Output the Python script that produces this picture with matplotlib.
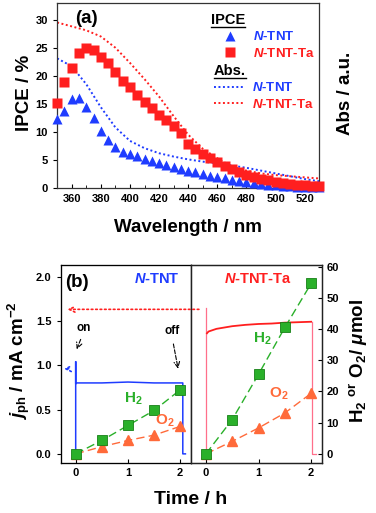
import matplotlib
matplotlib.use("Agg")
import matplotlib.pyplot as plt
from matplotlib.lines import Line2D

plt.rcParams["font.family"] = ["Liberation Sans", "DejaVu Sans"]
plt.rcParams["font.weight"] = "bold"
plt.rcParams["axes.labelweight"] = "bold"
plt.rcParams["mathtext.fontset"] = "custom"
plt.rcParams["mathtext.rm"] = "Liberation Sans:bold"
plt.rcParams["mathtext.it"] = "Liberation Sans:italic:bold"
plt.rcParams["mathtext.bf"] = "Liberation Sans:bold"

# ─── (a) IPCE + 吸收 ───────────────────────────────────────────
wl = list(range(350, 531, 5))
ipce_ntnt = [12.3, 13.7, 15.9, 16.0, 14.5, 12.4, 10.1, 8.5, 7.3, 6.5, 6.0, 5.7, 5.2,
             4.8, 4.5, 4.1, 3.8, 3.4, 3.1, 2.8, 2.5, 2.2, 1.9, 1.7, 1.5, 1.3, 1.1,
             0.9, 0.8, 0.6, 0.5, 0.4, 0.3, 0.25, 0.2, 0.15, 0.1]
ipce_ta = [15.2, 18.9, 21.4, 24.0, 25.0, 24.6, 23.3, 22.2, 20.6, 19.0, 18.0, 16.6,
           15.4, 14.2, 13.0, 12.1, 11.0, 9.8, 7.8, 6.9, 6.1, 5.3, 4.6, 4.0, 3.3,
           2.8, 2.4, 1.9, 1.6, 1.35, 1.1, 0.95, 0.8, 0.6, 0.5, 0.4, 0.35]

wl_abs = list(range(350, 531, 10))
abs_ntnt = [23.1, 21.7, 18.5, 14.4, 10.8, 8.4, 7.1, 6.2, 5.6, 5.1, 4.7, 4.4, 4.0,
            3.6, 3.1, 2.6, 2.1, 1.6, 1.2]
abs_ta = [29.5, 28.8, 28.1, 27.0, 25.0, 22.3, 19.4, 16.3, 12.8, 9.5, 7.0, 5.3, 3.8,
          3.1, 2.6, 2.3, 2.1, 1.9, 1.7]

# ─── (b) 光电流 + 产气 ─────────────────────────────────────────
ntnt_t = [0.0, 0.0, 0.0, 0.02, 0.5, 1.0, 1.5, 2.0, 2.05, 2.05, 2.1]
ntnt_j = [0.0, 1.04, 0.79, 0.80, 0.80, 0.81, 0.80, 0.80, 0.80, 0.0, 0.0]

ta_t = [0.02, 0.05, 0.1, 0.2, 0.3, 0.5, 0.75, 1.0, 1.25, 1.5, 1.75, 2.0]
ta_j = [1.36, 1.38, 1.39, 1.41, 1.42, 1.44, 1.455, 1.465, 1.47, 1.48, 1.485, 1.49]
ta_on_t, ta_on_j = [0.0, 0.0], [0.0, 1.65]
ta_off_t, ta_off_j = [2.02, 2.02, 2.1], [1.49, 0.0, 0.0]

gas_t = [0, 0.5, 1, 1.5, 2]
h2_ntnt = [0, 4.3, 9.1, 13.9, 20.5]
o2_ntnt = [0, 2.3, 4.3, 6.0, 8.8]
h2_ta = [0, 11.0, 25.5, 40.5, 54.6]
o2_ta = [0, 4.0, 8.3, 13.1, 19.4]

BLUE = "#1f3cff"
RED = "#ff1f1f"
PINK = "#ff6f8a"
GREEN = "#2ab02a"
GDARK = "#178017"
ORANGE = "#ff6a3a"
DOTS = (0, (1.0, 1.3))

fig = plt.figure(figsize=(3.76, 5.13), dpi=100)

# ─── 面板 (a) ───
axA = fig.add_axes([0.152, 0.6335, 0.697, 0.361])
axA.plot(wl_abs, abs_ntnt, ls=DOTS, color=BLUE, lw=1.4, zorder=1)
axA.plot(wl_abs, abs_ta, ls=DOTS, color=RED, lw=1.4, zorder=1)
axA.plot(wl, ipce_ntnt, "^", color=BLUE, ms=6.5, mec="none", zorder=3, clip_on=False)
axA.plot(wl, ipce_ta, "s", color=RED, ms=6.8, mec="none", zorder=4, clip_on=False)
axA.set_xlim(350, 530)
axA.set_ylim(0, 33)
axA.set_xticks(range(360, 521, 20))
axA.set_xticks(range(350, 531, 10), minor=True)
axA.set_yticks(range(0, 31, 5))
axA.tick_params(axis="x", direction="in", length=3, labelsize=8, pad=4)
axA.tick_params(axis="x", which="minor", direction="in", length=2)
axA.tick_params(axis="y", direction="out", length=3, labelsize=8)
for sp in axA.spines.values():
    sp.set_linewidth(0.9)
    sp.set_color("#333333")

hA = [Line2D([], [], ls="none", marker="^", color=BLUE, ms=6.5, mec="none"),
      Line2D([], [], ls="none", marker="s", color=RED, ms=6.5, mec="none")]
legA = axA.legend(hA, [r"$\it{N}$-TNT", r"$\it{N}$-TNT-Ta"], title="IPCE",
                  loc="upper left", bbox_to_anchor=(0.56, 0.98), frameon=False,
                  fontsize=9.5, title_fontsize=10.5, alignment="left", borderpad=0,
                  handlelength=3.0, handletextpad=0.25, labelspacing=0.25)
for t, c in zip(legA.get_texts(), [BLUE, RED]):
    t.set_color(c)
axA.add_artist(legA)

hB = [Line2D([], [], ls=DOTS, color=BLUE, lw=1.4),
      Line2D([], [], ls=DOTS, color=RED, lw=1.4)]
legB = axA.legend(hB, [r"$\it{N}$-TNT", r"$\it{N}$-TNT-Ta"], title="Abs.",
                  loc="upper left", bbox_to_anchor=(0.572, 0.705), frameon=False,
                  fontsize=9.5, title_fontsize=10.5, alignment="left", borderpad=0,
                  handlelength=2.2, handletextpad=0.7, labelspacing=0.25)
for t, c in zip(legB.get_texts(), [BLUE, RED]):
    t.set_color(c)

axA.text(0.07, 0.96, "(a)", transform=axA.transAxes, fontsize=13.5,
         fontweight="bold", va="top", ha="left")
fig.text(0.065, 0.818, "IPCE / %", rotation=90, ha="center", va="center", fontsize=13.5)
fig.text(0.92, 0.818, "Abs / a.u.", rotation=90, ha="center", va="center", fontsize=13.5)
fig.text(0.5, 0.557, "Wavelength / nm", ha="center", va="center", fontsize=13.5)

# ─── 面板 (b) ───
axL = fig.add_axes([0.161, 0.098, 0.346, 0.3854])
axR = fig.add_axes([0.507, 0.098, 0.3486, 0.3854])
for ax in (axL, axR):
    ax.set_xlim(-0.29, 2.2)
    ax.set_ylim(-0.1, 2.13)
    ax.set_xticks([0, 1, 2])
    ax.tick_params(axis="x", direction="in", length=3, labelsize=8, pad=4)
    for sp in ax.spines.values():
        sp.set_linewidth(0.9)
        sp.set_color("#222222")
axL.set_yticks([0.0, 0.5, 1.0, 1.5, 2.0])
axL.set_yticklabels(["0.0", "0.5", "1.0", "1.5", "2.0"])
axL.tick_params(axis="y", direction="out", length=3, labelsize=8)
axR.set_yticks([])

axL.plot(ntnt_t, ntnt_j, color=BLUE, lw=1.1, zorder=2)
axR.plot(ta_on_t, ta_on_j, color=PINK, lw=0.9, zorder=2)
axR.plot(ta_t, ta_j, color=RED, lw=1.3, zorder=2)
axR.plot(ta_off_t, ta_off_j, color=PINK, lw=0.9, zorder=2)

gL = axL.twinx()
gR = axR.twinx()
for g in (gL, gR):
    g.set_ylim(-2.84, 60.5)
    g.set_xlim(-0.29, 2.2)
gL.set_yticks([])
gL.spines["right"].set_visible(False)
gR.set_yticks(range(0, 61, 10))
gR.tick_params(axis="y", direction="in", length=3, labelsize=8)
for sp in gR.spines.values():
    sp.set_linewidth(0.9)
    sp.set_color("#222222")

for g, h2, o2 in ((gL, h2_ntnt, o2_ntnt), (gR, h2_ta, o2_ta)):
    g.plot(gas_t, o2, ls=(0, (6, 3)), color=ORANGE, lw=1.0, marker="^", ms=6.5,
           mfc=ORANGE, mec=ORANGE, clip_on=False)
    g.plot(gas_t, h2, ls=(0, (6, 3)), color=GREEN, lw=1.0, marker="s", ms=6.5,
           mfc=GREEN, mec=GDARK, mew=0.6, clip_on=False)

gL.text(1.1, 17.6, r"H$_2$", color=GREEN, fontsize=11, ha="center", va="center")
gL.text(1.7, 10.5, r"O$_2$", color=ORANGE, fontsize=11, ha="center", va="center")
gR.text(1.08, 37.0, r"H$_2$", color=GREEN, fontsize=11, ha="center", va="center")
gR.text(1.38, 19.3, r"O$_2$", color=ORANGE, fontsize=11, ha="center", va="center")

axL.text(0.03, 1.93, "(b)", fontsize=13.5, ha="center", va="center")
axL.text(1.55, 1.97, r"$\it{N}$-TNT", color=BLUE, fontsize=10.5, ha="center", va="center")
axR.text(0.99, 1.97, r"$\it{N}$-TNT-Ta", color=RED, fontsize=10.5, ha="center", va="center")

# on / off 标注
axL.text(0.16, 1.42, "on", fontsize=8.5, ha="center", va="center")
axL.annotate("", xy=(0.0, 1.15), xytext=(0.115, 1.32),
             arrowprops=dict(arrowstyle="->", ls="--", color="black", lw=0.8))
axL.text(1.84, 1.39, "off", fontsize=8.5, ha="center", va="center")
axL.annotate("", xy=(1.97, 0.93), xytext=(1.86, 1.27),
             arrowprops=dict(arrowstyle="->", ls="--", color="black", lw=0.8))

# 指向左轴的虚线箭头
axL.annotate("", xy=(-0.28, 0.96), xytext=(-0.08, 0.96), annotation_clip=False,
             arrowprops=dict(arrowstyle="->", ls=":", color=BLUE, lw=1.2))
axR.annotate("", xy=(-0.21, 1.63), xycoords=axL.transData,
             xytext=(-0.08, 1.63), textcoords=axR.transData, annotation_clip=False,
             arrowprops=dict(arrowstyle="->", ls=":", color=RED, lw=1.2))

fig.text(0.05, 0.297, r"$j_{\rm ph}$ / mA cm$^{-2}$", rotation=90,
         ha="center", va="center", fontsize=13.5)
fig.text(0.955, 0.297, r"H$_2$ $^{\rm or}$ O$_2$/ $\mu$mol", rotation=90,
         ha="center", va="center", fontsize=13.5)
fig.text(0.507, 0.026, "Time / h", ha="center", va="center", fontsize=14)

# 图例标题下划线
fig.canvas.draw()
r = fig.canvas.get_renderer()
for leg in (legA, legB):
    bb = leg.get_title().get_window_extent(r)
    x0, x1 = bb.x0 / fig.bbox.width, bb.x1 / fig.bbox.width
    y = (bb.y0 + 0.5) / fig.bbox.height
    fig.add_artist(Line2D([x0, x1], [y, y], color="black", lw=1.0))

fig.savefig("out.png", dpi=100)
